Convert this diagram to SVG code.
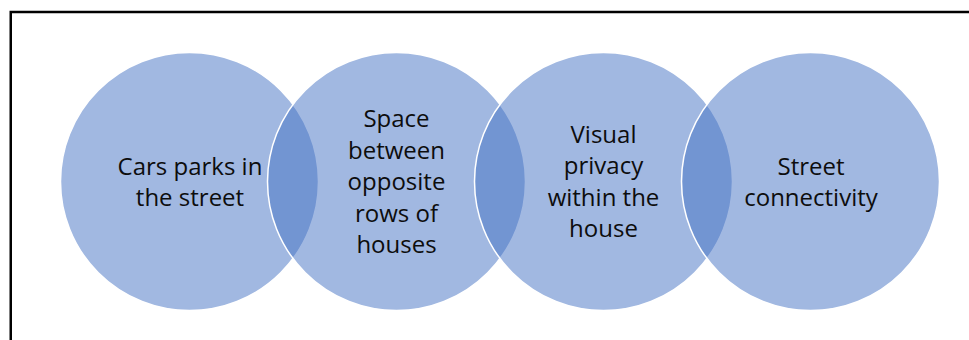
<svg xmlns="http://www.w3.org/2000/svg" width="969" height="340" viewBox="0 0 969 340">
<style>
.c{fill:#4472C4;fill-opacity:0.5;stroke:#ffffff;stroke-width:1.5}
.t{font-family:"Open Sans","Liberation Sans",Arial,sans-serif;font-size:24px;fill:#0d0d0d;text-anchor:middle}
</style>
<rect x="0" y="0" width="969" height="340" fill="#ffffff"/>
<rect x="10.75" y="12" width="1000" height="400" fill="none" stroke="#000000" stroke-width="2.5"/>
<g id="node1">
<circle class="c" cx="189.5" cy="181.5" r="129"/>
<text class="t"><tspan x="190" y="174.5">Cars parks in</tspan><tspan x="190" y="206">the street</tspan></text>
</g>
<g id="node2">
<circle class="c" cx="396.5" cy="181.5" r="129"/>
<text class="t"><tspan x="396.5" y="127">Space</tspan><tspan x="396.5" y="158.5">between</tspan><tspan x="396.5" y="190">opposite</tspan><tspan x="396.5" y="221.5">rows of</tspan><tspan x="396.5" y="253">houses</tspan></text>
</g>
<g id="node3">
<circle class="c" cx="603.5" cy="181.5" r="129"/>
<text class="t"><tspan x="603.5" y="142.5">Visual</tspan><tspan x="603.5" y="174">privacy</tspan><tspan x="603.5" y="205.5">within the</tspan><tspan x="603.5" y="237">house</tspan></text>
</g>
<g id="node4">
<circle class="c" cx="810.5" cy="181.5" r="129"/>
<text class="t"><tspan x="811" y="174.5">Street</tspan><tspan x="811" y="206">connectivity</tspan></text>
</g>
</svg>
